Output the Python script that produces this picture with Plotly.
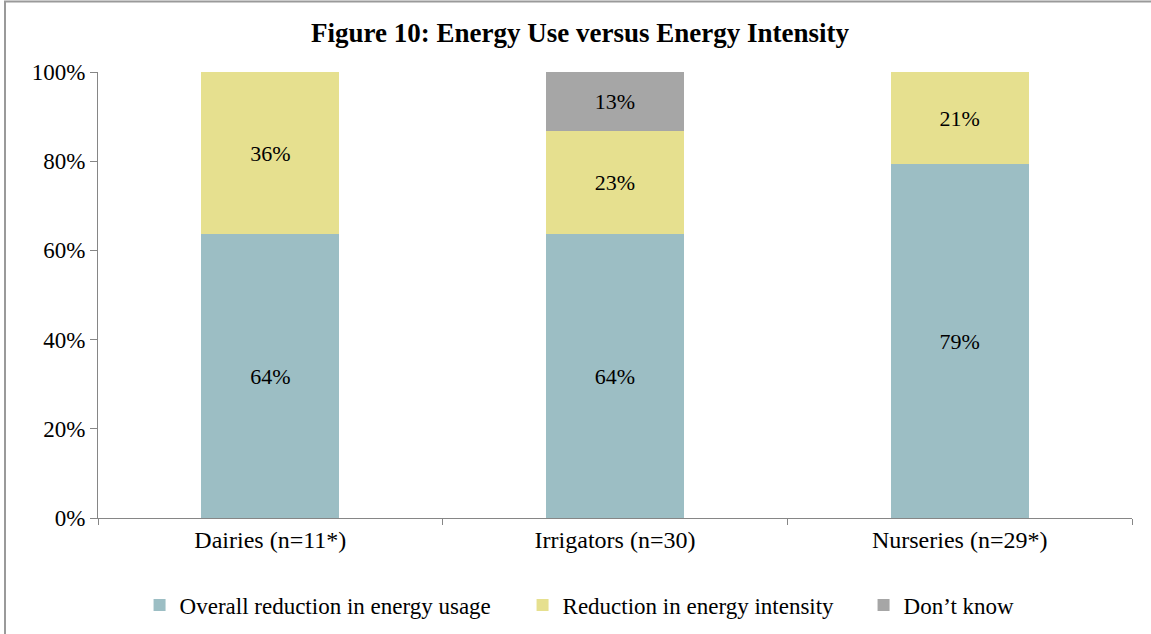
import plotly.graph_objects as go

# --- Data ---
CATEGORIES = ["Dairies (n=11*)", "Irrigators (n=30)", "Nurseries (n=29*)"]
OVERALL = [63.6, 63.6, 79.3]
INTENSITY = [36.4, 23.2, 20.7]
DONT_KNOW = [0, 13.2, 0]

SERIES_NAMES = ["Overall reduction in energy usage", "Reduction in energy intensity", "Don\u2019t know"]
COLORS = ["#9CBEC4", "#E6E08F", "#A6A6A6"]
TICK_VALS = [0, 20, 40, 60, 80, 100]
TICK_TEXT = ["0%", "20%", "40%", "60%", "80%", "100%"]

FONT = "Liberation Serif, Times New Roman, serif"

# plot area in pixels (left, top, right, bottom)
W, H = 1151, 634
L, T, R, B = 98, 72, 1132, 518


def px_x(x):
    return (x - L) / (R - L)


def px_y(y):
    return (B - y) / (B - T)


fig = go.Figure()
legend_ids = ["legend", "legend2", "legend3"]
for name, vals, color, lg in zip(SERIES_NAMES, [OVERALL, INTENSITY, DONT_KNOW], COLORS, legend_ids):
    fig.add_trace(go.Bar(
        x=CATEGORIES, y=vals, name=name,
        marker=dict(color=color, line=dict(width=0)),
        text=[f"{v:.0f}%" if v > 0 else "" for v in vals],
        textposition="inside", insidetextanchor="middle",
        textfont=dict(family=FONT, size=22, color="#000000"),
        legend=lg, showlegend=True, hoverinfo="x+y+name",
    ))

legend_x = [153, 536, 877]
common_legend = dict(orientation="h", yanchor="middle", xanchor="left",
                     font=dict(family=FONT, size=23, color="#000000"),
                     bgcolor="rgba(0,0,0,0)", itemclick=False)

fig.update_layout(
    width=W, height=H,
    margin=dict(l=L, r=W - R, t=T, b=H - B, autoexpand=False),
    showlegend=True,
    barmode="stack", bargap=0.6,
    plot_bgcolor="white", paper_bgcolor="white",
    font=dict(family=FONT, size=23, color="#000000"),
    title=dict(text="<b>Figure 10: Energy Use versus Energy Intensity</b>",
               x=px_x(580), xref="paper", xanchor="center",
               y=1 - 33 / H, yanchor="middle",
               font=dict(family=FONT, size=27, color="#000000")),
    xaxis=dict(showgrid=False, showline=True, linecolor="#868686", linewidth=1,
               ticks="outside", tickson="boundaries", ticklen=6, tickcolor="#868686",
               tickfont=dict(family=FONT, size=24)),
    yaxis=dict(range=[0, 100], tickvals=TICK_VALS, ticktext=TICK_TEXT,
               showgrid=False, showline=True, linecolor="#868686", linewidth=1,
               ticks="outside", ticklen=7, tickcolor="#868686",
               tickfont=dict(family=FONT, size=23), zeroline=False),
    legend=dict(x=px_x(legend_x[0]) - 0.013, y=px_y(605), **common_legend),
    legend2=dict(x=px_x(legend_x[1]) - 0.013, y=px_y(605), **common_legend),
    legend3=dict(x=px_x(legend_x[2]) - 0.013, y=px_y(605), **common_legend),
    shapes=[dict(type="rect", xref="paper", yref="paper",
                 x0=px_x(5), x1=px_x(1160), y0=px_y(650), y1=px_y(1.5),
                 line=dict(color="#9A9A9A", width=2), fillcolor="rgba(0,0,0,0)", layer="below")],
)

# drop the browser's default body margin so the figure sits at the page origin
fig.write_html("out.html", config={"displayModeBar": False},
               post_script="document.body.style.margin='0';")
